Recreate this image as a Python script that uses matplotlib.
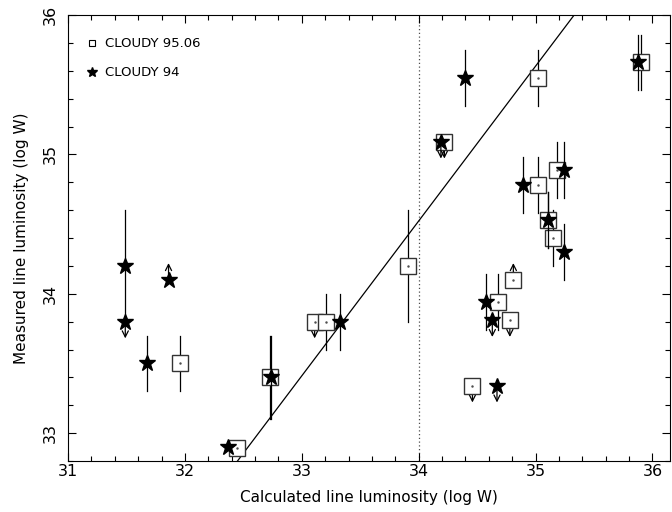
import matplotlib
matplotlib.use("Agg")
import matplotlib.pyplot as plt
from matplotlib.ticker import MultipleLocator

# CLOUDY 95.06 models (squares); lim: -1 upper limit, +1 lower limit
sq_x = [31.96, 32.45, 32.73, 33.11, 33.21, 33.91, 34.22, 35.02, 35.90,
        35.02, 35.18, 35.11, 35.15, 34.68, 34.81, 34.78, 34.46]
sq_y = [33.50, 32.89, 33.40, 33.80, 33.80, 34.20, 35.09, 35.55, 35.66,
        34.78, 34.89, 34.53, 34.40, 33.94, 34.10, 33.81, 33.34]
sq_err = [0.2, 0, 0.3, 0, 0.2, 0.4, 0, 0.2, 0.2,
          0.2, 0.2, 0.2, 0.2, 0.2, 0, 0, 0]
sq_lim = [0, -1, 0, -1, 0, 0, -1, 0, 0,
          0, 0, 0, 0, 0, 1, -1, -1]

# CLOUDY 94 models (stars)
st_x = [31.49, 31.49, 31.68, 31.86, 32.37, 32.74, 33.33, 34.19, 34.40,
        35.88, 34.89, 35.24, 35.11, 35.24, 34.58, 34.63, 34.67]
st_y = [34.20, 33.80, 33.50, 34.10, 32.90, 33.40, 33.80, 35.09, 35.55,
        35.66, 34.78, 34.89, 34.53, 34.30, 33.94, 33.81, 33.34]
st_err = [0.4, 0, 0.2, 0, 0, 0.3, 0.2, 0, 0.2,
          0.2, 0.2, 0.2, 0.2, 0.2, 0.2, 0, 0]
st_lim = [0, -1, 0, 1, -1, 0, 0, -1, 0,
          0, 0, 0, 0, 0, 0, -1, -1]

# straight-line relation drawn across the panel
fit_slope, fit_icpt = 1.111, -3.252
fit_x = [32.45, 35.33]

arrow_len = 0.12

fig = plt.figure(figsize=(6.72, 5.12), dpi=100)
ax = fig.add_axes([0.1012, 0.0996, 0.8958, 0.8711])

ax.axvline(34.0, color="0.3", ls=(0, (1, 2)), lw=0.9, zorder=1)
ax.plot(fit_x, [fit_slope * x + fit_icpt for x in fit_x], color="k", lw=0.9, zorder=2)


def draw_set(xs, ys, errs, lims, marker, ms, face, edge, z):
    for x, y, e, l in zip(xs, ys, errs, lims):
        if e > 0:
            ax.plot([x, x], [y - e, y + e], color="k", lw=0.9, zorder=z - 1)
        if l != 0:
            ax.annotate("", xy=(x, y + l * arrow_len), xytext=(x, y),
                        arrowprops=dict(arrowstyle="->", color="k", lw=0.9,
                                        shrinkA=0, shrinkB=0,
                                        mutation_scale=11),
                        zorder=z - 1)
    ax.plot(xs, ys, ls="none", marker=marker, ms=ms, mfc=face, mec=edge,
            mew=1.0, zorder=z)


draw_set(sq_x, sq_y, sq_err, sq_lim, "s", 11.5, "white", "0.2", 4)
ax.plot(sq_x, sq_y, ls="none", marker=".", ms=1.5, color="0.3", zorder=5)
draw_set(st_x, st_y, st_err, st_lim, "*", 12, "black", "black", 7)

# legend drawn by hand
ax.plot([0.04], [0.937], transform=ax.transAxes, marker="s", ms=5,
        mfc="white", mec="k", mew=0.8, ls="none")
ax.text(0.0615, 0.937, "CLOUDY 95.06", transform=ax.transAxes,
        fontsize=9.5, va="center", ha="left")
ax.plot([0.04], [0.872], transform=ax.transAxes, marker="*", ms=7,
        color="k", ls="none")
ax.text(0.0615, 0.872, "CLOUDY 94", transform=ax.transAxes,
        fontsize=9.5, va="center", ha="left")

ax.set_xlim(31.0, 36.15)
ax.set_ylim(32.8, 36.0)
ax.xaxis.set_major_locator(MultipleLocator(1))
ax.xaxis.set_minor_locator(MultipleLocator(0.2))
ax.yaxis.set_major_locator(MultipleLocator(1))
ax.yaxis.set_minor_locator(MultipleLocator(0.2))
ax.tick_params(which="both", direction="in", top=True, right=True, width=0.8)
ax.tick_params(which="major", length=6, labelsize=11.5)
ax.tick_params(which="minor", length=3.5)
ax.tick_params(axis="x", pad=2)
ax.tick_params(axis="y", pad=7)
plt.setp(ax.get_yticklabels(), rotation=90, va="center")
for s in ax.spines.values():
    s.set_linewidth(0.8)

ax.set_xlabel("Calculated line luminosity (log W)", fontsize=11, labelpad=8)
ax.set_ylabel("Measured line luminosity (log W)", fontsize=11, labelpad=10)

fig.savefig("out.png", dpi=100)
